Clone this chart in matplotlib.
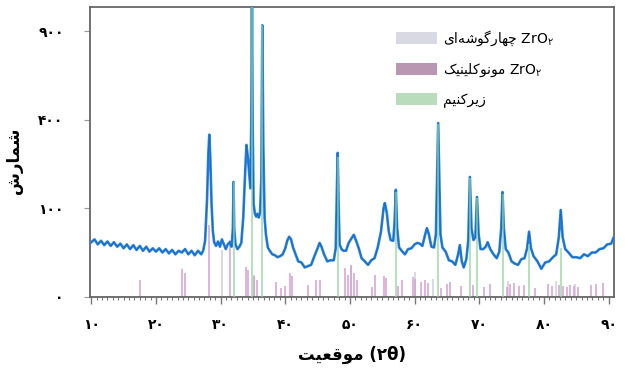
import numpy as np
import matplotlib
matplotlib.use("Agg")
import matplotlib.pyplot as plt
from matplotlib.patches import Patch
from matplotlib.ticker import MultipleLocator, FixedLocator

plt.rcParams['font.family'] = ['DejaVu Sans']

# Persian text, already shaped (presentation forms, visual order)
y_title = "\uFEB5\uFEAD\uFE8E\uFEE4\uFEB7"                                  # شمارش
x_title = "\uFE96\uFBFF\uFECC\uFED7\uFEEE\uFEE3 (\u06F2\u03B8)"               # موقعیت (۲θ)
lbl_tetra = "\uFBFC\uFE8D\uFEEA\uFEB7\uFEEE\uFB94\uFEAD\uFE8E\uFEEC\uFB7C ZrO$_{\u06F2}$"  # ZrO۲ چهارگوشه‌ای
lbl_mono = "\uFB8F\uFBFF\uFEE8\uFBFF\uFEE0\uFB90\uFEEE\uFEE7\uFEEE\uFEE3 ZrO$_{\u06F2}$"    # ZrO۲ مونوکلینیک
lbl_zr = "\uFEE2\uFBFF\uFEE8\uFB90\uFEAE\uFBFE\uFEAF"                        # زیرکنیم

x_ticks = [10, 20, 30, 40, 50, 60, 70, 80, 90]
x_ticklabels = ["\u06F1\u06F0", "\u06F2\u06F0", "\u06F3\u06F0", "\u06F4\u06F0", "\u06F5\u06F0",
                "\u06F6\u06F0", "\u06F7\u06F0", "\u06F8\u06F0", "\u06F9\u06F0"]
y_ticks = [0, 100, 400, 900]
y_ticklabels = ["\u06F0", "\u06F1\u06F0\u06F0", "\u06F4\u06F0\u06F0", "\u06F9\u06F0\u06F0"]

# measured pattern (2theta, counts)
two_theta = [10.0, 10.5, 11.0, 11.5, 12.0, 12.5, 13.0, 13.5, 14.0, 14.5, 15.0, 15.5, 16.0, 16.5,
             17.0, 17.5, 18.0, 18.5, 19.0, 19.5, 20.0, 20.5, 21.0, 21.5, 22.0, 22.5, 23.0, 23.5,
             24.0, 24.5, 25.0, 25.5, 26.0, 26.5, 27.0, 27.3, 27.6, 27.9, 28.1, 28.25, 28.4, 28.6,
             28.8, 29.0, 29.3, 29.6, 29.9, 30.2, 30.5, 30.8, 31.1, 31.4, 31.7, 31.9, 32.0, 32.1,
             32.3, 32.6, 32.9, 33.2, 33.5, 33.8, 34.0, 34.2, 34.4, 34.6, 34.75, 34.85, 34.95, 35.1,
             35.3, 35.5, 35.7, 35.9, 36.1, 36.3, 36.45, 36.6, 36.8, 37.0, 37.3, 37.6, 38.0, 38.4,
             38.8, 39.2, 39.6, 40.0, 40.3, 40.6, 40.9, 41.2, 41.6, 42.0, 42.5, 43.0, 43.5, 44.0,
             44.5, 45.0, 45.3, 45.6, 46.0, 46.5, 47.0, 47.5, 47.8, 47.95, 48.1, 48.25, 48.4, 48.7,
             49.0, 49.4, 49.8, 50.2, 50.6, 51.0, 51.4, 51.8, 52.3, 52.8, 53.3, 53.8, 54.3, 54.8,
             55.2, 55.4, 55.7, 56.0, 56.3, 56.7, 56.9, 57.1, 57.3, 57.6, 58.0, 58.5, 59.0, 59.5,
             60.0, 60.4, 60.8, 61.2, 61.6, 61.9, 62.2, 62.6, 63.0, 63.3, 63.5, 63.65, 63.8, 64.0,
             64.3, 64.8, 65.3, 65.8, 66.3, 66.7, 67.0, 67.3, 67.6, 68.0, 68.3, 68.55, 68.8, 69.1,
             69.4, 69.65, 69.9, 70.2, 70.6, 71.0, 71.3, 71.7, 72.2, 72.7, 73.1, 73.4, 73.6, 73.8,
             74.1, 74.5, 75.0, 75.5, 76.0, 76.5, 77.0, 77.4, 77.7, 78.0, 78.4, 79.0, 79.6, 80.2,
             80.8, 81.4, 81.9, 82.3, 82.6, 82.9, 83.3, 83.8, 84.4, 85.0, 85.6, 86.2, 86.8, 87.4,
             88.0, 88.6, 89.2, 89.8, 90.4, 90.8]
counts = [38, 42, 35, 40, 34, 39, 33, 38, 32, 36, 30, 35, 29, 34,
          28, 33, 27, 32, 26, 30, 26, 30, 25, 29, 24, 28, 23, 27,
          25, 29, 23, 27, 22, 27, 23, 27, 40, 120, 260, 335, 250, 110,
          55, 38, 33, 39, 32, 42, 35, 29, 35, 38, 32, 60, 168, 60,
          35, 29, 32, 37, 80, 200, 294, 250, 200, 150, 400, 1150, 400, 110,
          88, 82, 88, 80, 90, 180, 940, 300, 80, 50, 31, 27, 23, 22,
          20, 21, 23, 30, 40, 46, 42, 31, 23, 16, 15, 11, 12, 13,
          21, 30, 37, 32, 23, 16, 17, 17, 30, 120, 264, 110, 35, 29,
          27, 27, 37, 43, 49, 39, 29, 19, 16, 13, 17, 19, 31, 54,
          100, 112, 90, 55, 41, 40, 70, 146, 60, 31, 27, 23, 29, 30,
          35, 37, 36, 33, 48, 60, 50, 32, 31, 50, 200, 385, 200, 50,
          31, 26, 17, 16, 13, 22, 34, 16, 11, 18, 40, 183, 60, 41,
          45, 127, 50, 29, 29, 32, 38, 29, 23, 19, 26, 60, 140, 60,
          29, 25, 16, 14, 13, 18, 19, 30, 54, 30, 21, 16, 10, 15,
          16, 20, 23, 45, 96, 45, 29, 25, 20, 20, 19, 23, 21, 25,
          25, 29, 30, 35, 36, 45]

# reference sticks (2theta, relative counts)
zr_pos = [32.0, 34.85, 36.45, 48.1, 57.1, 63.65, 68.55, 69.65, 73.6, 77.7, 82.6]
zr_h = [168, 1100, 940, 250, 140, 380, 180, 125, 135, 35, 30]

mono_pos = [17.5, 24.1, 24.5, 28.2, 31.5, 34.0, 34.3, 35.2, 35.6, 38.5, 39.4, 40.0, 40.7, 41.0,
            43.5, 44.8, 45.4, 49.2, 49.7, 50.1, 50.6, 51.1, 53.4, 53.9, 55.2, 55.6, 57.5, 58.1,
            59.8, 60.1, 61.0, 61.6, 62.1, 64.1, 65.0, 65.4, 67.2, 69.0, 70.8, 71.7, 74.3, 74.8,
            75.4, 76.2, 76.9, 78.6, 80.7, 81.2, 82.4, 82.9, 83.5, 84.1, 84.7, 85.3, 87.3, 88.1, 89.2]
mono_h = [3.7, 10, 7.3, 66, 41, 11.4, 9.3, 5.6, 3.7, 2.9, 1.0, 1.5, 7.3, 5.6,
          1.8, 3.7, 3.7, 10.7, 6.2, 13, 7.3, 3.7, 1.3, 6.2, 5.6, 4.6, 1.5, 3.7,
          5.1, 4.1, 2.9, 3.7, 2.5, 1.0, 2.1, 2.9, 1.5, 1.8, 1.3, 2.1, 1.3, 2.1,
          2.5, 1.5, 1.8, 1.0, 2.1, 1.5, 1.8, 1.5, 1.3, 1.8, 1.5, 1.3, 1.8, 2.1, 2.5]

tetra_pos = [30.2, 35.2, 50.2, 60.1, 62.8, 74.4, 81.8, 84.8]
tetra_h = [28, 6, 12, 8, 4, 3, 3, 2]

c_blue = '#2a86e0'
c_zr = '#8fd49a'
c_mono = '#d39fd3'
c_tetra = '#cfcfdc'

fig = plt.figure(figsize=(6.25, 3.71), dpi=100)
ax = fig.add_axes([0.144, 0.2, 0.838, 0.781])

ax.set_yscale('function', functions=(lambda v: np.sqrt(np.clip(v, 0, None)), lambda v: np.square(v)))

ax.vlines(tetra_pos, 0, tetra_h, colors=c_tetra, lw=1.1, zorder=2)
ax.vlines(mono_pos, 0, mono_h, colors=c_mono, lw=1.1, zorder=2)
ax.plot(two_theta, counts, color=c_blue, lw=1.9, zorder=3)
ax.plot(two_theta, counts, color='#1766c4', lw=0.6, zorder=3)
ax.vlines(zr_pos, 0, zr_h, colors=c_zr, lw=1.2, alpha=0.8, zorder=4)

ax.set_xlim(9.8, 90.8)
ax.set_ylim(0, 1070)

ax.xaxis.set_major_locator(FixedLocator(x_ticks))
ax.set_xticklabels(x_ticklabels, fontsize=10, fontweight='bold')
ax.xaxis.set_minor_locator(MultipleLocator(10 / 12))
ax.yaxis.set_major_locator(FixedLocator(y_ticks))
ax.set_yticklabels(y_ticklabels, fontsize=10, fontweight='bold')
ax.yaxis.set_minor_locator(FixedLocator([]))

ax.tick_params(axis='x', which='major', direction='out', length=5, width=1, color='#777777', pad=10)
ax.tick_params(axis='x', which='minor', direction='out', length=2.5, width=0.8, color='#777777')
ax.tick_params(axis='y', which='major', direction='out', length=4, width=0.8, color='#999999', pad=15)

for s in ax.spines.values():
    s.set_color('#666666')
    s.set_linewidth(1.3)

ax.set_xlabel(x_title, fontsize=12, fontweight='bold', labelpad=10)
ax.set_ylabel(y_title, fontsize=12, fontweight='bold')
ax.yaxis.set_label_coords(-0.128, 0.47)

handles = [Patch(facecolor='#d9d9e3', edgecolor='none', label=lbl_tetra),
           Patch(facecolor='#b996b2', edgecolor='none', label=lbl_mono),
           Patch(facecolor='#b9dcbc', edgecolor='none', label=lbl_zr)]
leg = ax.legend(handles=handles, loc='upper left', bbox_to_anchor=(0.565, 0.96), frameon=False,
                fontsize=10, handlelength=3.0, handleheight=0.9, labelspacing=1.0,
                handletextpad=0.4, borderpad=0.2)

fig.savefig('out.png', dpi=100)
